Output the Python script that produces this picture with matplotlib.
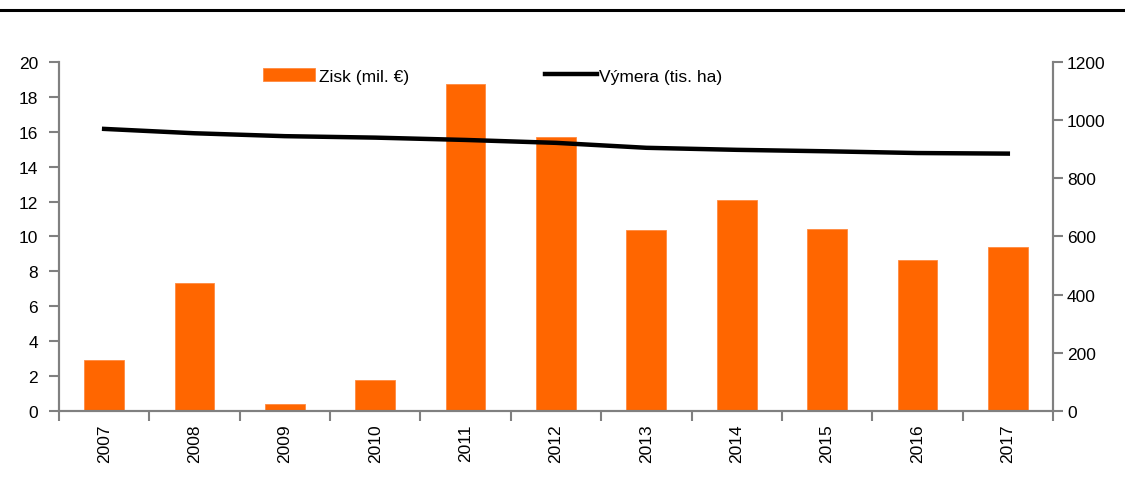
import numpy as np
from matplotlib import pyplot as plt
from matplotlib.lines import Line2D

years = ['2007', '2008', '2009', '2010', '2011', '2012', '2013', '2014', '2015', '2016', '2017']
zisk = [2.92, 7.35, 0.4, 1.78, 18.75, 15.7, 10.35, 12.1, 10.42, 8.65, 9.4]
vymera = [970, 955, 945, 940, 932, 922, 905, 898, 893, 887, 885]

plt.rcParams['font.family'] = ['Liberation Sans', 'DejaVu Sans']
plt.rcParams['font.size'] = 12.5

fig = plt.figure(figsize=(11.25, 4.81), dpi=100)
ax = fig.add_axes([0.0524, 0.1435, 0.8836, 0.7255])
ax2 = ax.twinx()

x = np.arange(len(years))
bars = ax.bar(x, zisk, width=0.44, color='#ff6600', edgecolor='#ff8a40', linewidth=0.6,
              label='Zisk (mil. €)', zorder=2)
line, = ax2.plot(x, vymera, color='black', lw=3.2, label='Výmera (tis. ha)', zorder=3)

ax.set_xlim(-0.5, len(years) - 0.5)
ax.set_ylim(0, 20)
ax.set_yticks(np.arange(0, 21, 2))
ax2.set_ylim(0, 1200)
ax2.set_yticks(np.arange(0, 1201, 200))

ax.set_xticks(x)
ax.set_xticklabels(years, rotation=90)
ax.set_xticks(np.arange(-0.5, len(years), 1), minor=True)
ax.tick_params(axis='x', which='major', length=0, pad=9)
ax.tick_params(axis='x', which='minor', length=7, width=1.5, color='#808080')
ax.tick_params(axis='y', length=7, width=1.5, color='#808080', pad=8)
ax2.tick_params(axis='y', length=7, width=1.5, color='#808080', pad=3)

for a in (ax, ax2):
    a.spines['top'].set_visible(False)
    for s in ('left', 'right', 'bottom'):
        a.spines[s].set_color('#808080')
        a.spines[s].set_linewidth(1.5)

# legend: two separate pieces placed like the original
leg1 = fig.legend(handles=[bars], loc='center left', bbox_to_anchor=(0.2338, 0.84),
                  frameon=False, handlelength=3.0, handleheight=0.8, handletextpad=0.2,
                  borderpad=0, borderaxespad=0, fontsize=12.5)
leg2 = fig.legend(handles=[Line2D([], [], color='black', lw=3.2)], labels=['Výmera (tis. ha)'],
                  loc='center left', bbox_to_anchor=(0.4844, 0.84), frameon=False,
                  handlelength=3.0, handletextpad=0.1, borderpad=0, borderaxespad=0,
                  fontsize=12.5)

# black rule at the top
fig.add_artist(Line2D([0, 1], [1 - 11 / 481, 1 - 11 / 481], color='black', lw=2.2,
                      transform=fig.transFigure))

fig.savefig('out.png', dpi=100)
